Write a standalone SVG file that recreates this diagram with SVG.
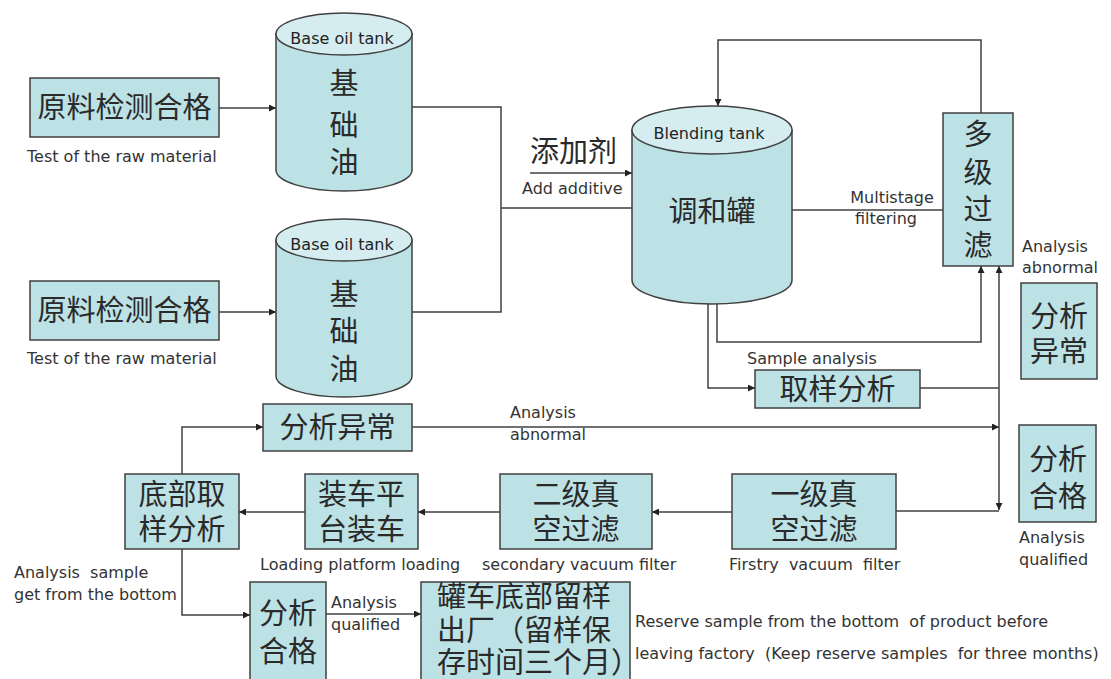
<svg xmlns="http://www.w3.org/2000/svg" width="1111" height="679" viewBox="0 0 1111 679">
  <style>
    .box { fill: #bde2e6; stroke: #404040; stroke-width: 1.5; }
    .cyl { fill: #bde2e6; stroke: #404040; stroke-width: 1.5; }
    .cyltop { fill: #d5edf0; stroke: #404040; stroke-width: 1.5; }
    .zh { font-family: "Noto Sans CJK SC", sans-serif; font-size: 29px; fill: #2a2a2a; }
    .en { font-family: "DejaVu Sans", "Liberation Sans", sans-serif; font-size: 16px; fill: #333; }
    .enm { font-family: "DejaVu Sans", "Liberation Sans", sans-serif; font-size: 16px; fill: #222; }
    .wire { fill: none; stroke: #404040; stroke-width: 1.5; }
  </style>
  <defs>
    <marker id="arr" viewBox="0 0 10 10" refX="10" refY="5" markerWidth="7" markerHeight="7" markerUnits="userSpaceOnUse" orient="auto">
      <path d="M0,0 L10,5 L0,10 z" fill="#222"/>
    </marker>
    <marker id="arrS" viewBox="0 0 10 10" refX="0" refY="5" markerWidth="7" markerHeight="7" markerUnits="userSpaceOnUse" orient="auto">
      <path d="M10,0 L0,5 L10,10 z" fill="#222"/>
    </marker>
  </defs>
  <rect width="1111" height="679" fill="#ffffff"/>

  <!-- connectors -->
  <g id="connectors">
    <path class="wire" d="M219,108 L276,108" marker-end="url(#arr)"/>
    <path class="wire" d="M219,312 L276,312" marker-end="url(#arr)"/>
    <path class="wire" d="M412,107 L501,107 L501,312 L412,312"/>
    <path class="wire" d="M501,208 L632,208"/>
    <path class="wire" d="M530,173 L632,173" marker-end="url(#arr)"/>
    <path class="wire" d="M792,210 L943,210"/>
    <path class="wire" d="M981,113 L981,40 L718,40 L718,106" marker-end="url(#arr)"/>
    <path class="wire" d="M717,304 L717,342 L981,342 L981,266" marker-end="url(#arr)"/>
    <path class="wire" d="M708,304 L708,388 L755,388" marker-end="url(#arr)"/>
    <path class="wire" d="M920,388 L999,388"/>
    <path class="wire" d="M999,510 L999,266" marker-start="url(#arrS)" marker-end="url(#arr)"/>
    <path class="wire" d="M896,511 L999,511"/>
    <path class="wire" d="M412,427 L999,427" marker-end="url(#arr)"/>
    <path class="wire" d="M732,512 L652,512" marker-end="url(#arr)"/>
    <path class="wire" d="M500,512 L418,512" marker-end="url(#arr)"/>
    <path class="wire" d="M305,512 L239,512" marker-end="url(#arr)"/>
    <path class="wire" d="M182,474 L182,427 L263,427" marker-end="url(#arr)"/>
    <path class="wire" d="M182,549 L182,615 L250,615" marker-end="url(#arr)"/>
    <path class="wire" d="M326,614 L421,614" marker-end="url(#arr)"/>
  </g>

  <!-- raw material test 1 -->
  <g id="raw1">
    <rect class="box" x="30" y="78" width="189" height="59"/>
    <text class="zh" x="124.5" y="118" text-anchor="middle" font-size="30">原料检测合格</text>
    <text class="en" x="27" y="162">Test of the raw material</text>
  </g>
  <!-- raw material test 2 -->
  <g id="raw2">
    <rect class="box" x="30" y="281" width="189" height="59"/>
    <text class="zh" x="124.5" y="321" text-anchor="middle" font-size="30">原料检测合格</text>
    <text class="en" x="27" y="364">Test of the raw material</text>
  </g>

  <!-- base oil tank 1 -->
  <g id="tank1">
    <path class="cyl" d="M276,34 L276,170 A68,21 0 0 0 412,170 L412,34 Z"/>
    <ellipse class="cyltop" cx="344" cy="34" rx="68" ry="21"/>
    <text class="enm" x="342" y="44" text-anchor="middle">Base oil tank</text>
    <text class="zh" x="344" y="94" text-anchor="middle">基</text>
    <text class="zh" x="344" y="136" text-anchor="middle">础</text>
    <text class="zh" x="344" y="173" text-anchor="middle">油</text>
  </g>
  <!-- base oil tank 2 -->
  <g id="tank2">
    <path class="cyl" d="M276,240 L276,376 A68,21 0 0 0 412,376 L412,240 Z"/>
    <ellipse class="cyltop" cx="344" cy="240" rx="68" ry="21"/>
    <text class="enm" x="342" y="250" text-anchor="middle">Base oil tank</text>
    <text class="zh" x="344" y="305" text-anchor="middle">基</text>
    <text class="zh" x="344" y="342" text-anchor="middle">础</text>
    <text class="zh" x="344" y="380" text-anchor="middle">油</text>
  </g>

  <!-- additive -->
  <g id="additive">
    <text class="zh" x="530" y="162">添加剂</text>
    <text class="en" x="522" y="194">Add additive</text>
  </g>

  <!-- blending tank -->
  <g id="blend">
    <path class="cyl" d="M632,130 L632,280 A80,24 0 0 0 792,280 L792,130 Z"/>
    <ellipse class="cyltop" cx="712" cy="130" rx="80" ry="24"/>
    <text class="enm" x="709" y="139" text-anchor="middle">Blending tank</text>
    <text class="zh" x="712" y="222" text-anchor="middle">调和罐</text>
  </g>

  <!-- multistage filtering -->
  <g id="multi">
    <text class="en" x="892" y="203" text-anchor="middle">Multistage</text>
    <text class="en" x="886" y="224" text-anchor="middle">filtering</text>
    <rect class="box" x="943" y="113" width="70" height="153"/>
    <text class="zh" x="978" y="145" text-anchor="middle">多</text>
    <text class="zh" x="978" y="183" text-anchor="middle">级</text>
    <text class="zh" x="978" y="220" text-anchor="middle">过</text>
    <text class="zh" x="978" y="256" text-anchor="middle">滤</text>
  </g>

  <!-- analysis abnormal (right) -->
  <g id="abn-right">
    <text class="en" x="1022" y="252">Analysis</text>
    <text class="en" x="1022" y="273">abnormal</text>
    <rect class="box" x="1021" y="283" width="76" height="96"/>
    <text class="zh" x="1059" y="327" text-anchor="middle">分析</text>
    <text class="zh" x="1059" y="362" text-anchor="middle">异常</text>
  </g>

  <!-- analysis qualified (right) -->
  <g id="ok-right">
    <rect class="box" x="1019" y="425" width="77" height="97"/>
    <text class="zh" x="1058" y="470" text-anchor="middle">分析</text>
    <text class="zh" x="1058" y="507" text-anchor="middle">合格</text>
    <text class="en" x="1019" y="543">Analysis</text>
    <text class="en" x="1019" y="565">qualified</text>
  </g>

  <!-- sample analysis -->
  <g id="sample">
    <text class="en" x="747" y="364">Sample analysis</text>
    <rect class="box" x="755" y="370" width="165" height="38"/>
    <text class="zh" x="837.5" y="400" text-anchor="middle">取样分析</text>
  </g>

  <!-- analysis abnormal (middle) -->
  <g id="abn-mid">
    <rect class="box" x="263" y="404" width="149" height="47"/>
    <text class="zh" x="337.5" y="438" text-anchor="middle">分析异常</text>
    <text class="en" x="510" y="418">Analysis</text>
    <text class="en" x="510" y="440">abnormal</text>
  </g>

  <!-- first vacuum filter -->
  <g id="vac1">
    <rect class="box" x="732" y="474" width="164" height="75"/>
    <text class="zh" x="814" y="505" text-anchor="middle">一级真</text>
    <text class="zh" x="814" y="540" text-anchor="middle">空过滤</text>
    <text class="en" x="729" y="570" xml:space="preserve">Firstry  vacuum  filter</text>
  </g>

  <!-- second vacuum filter -->
  <g id="vac2">
    <rect class="box" x="500" y="474" width="152" height="75"/>
    <text class="zh" x="576" y="505" text-anchor="middle">二级真</text>
    <text class="zh" x="576" y="540" text-anchor="middle">空过滤</text>
    <text class="en" x="482" y="570">secondary vacuum filter</text>
  </g>

  <!-- loading platform -->
  <g id="loading">
    <rect class="box" x="305" y="474" width="113" height="75"/>
    <text class="zh" x="361.5" y="505" text-anchor="middle">装车平</text>
    <text class="zh" x="361.5" y="540" text-anchor="middle">台装车</text>
    <text class="en" x="260" y="570">Loading platform loading</text>
  </g>

  <!-- bottom sampling -->
  <g id="bottom">
    <rect class="box" x="125" y="474" width="114" height="75"/>
    <text class="zh" x="182" y="505" text-anchor="middle">底部取</text>
    <text class="zh" x="182" y="540" text-anchor="middle">样分析</text>
    <text class="en" x="14" y="578" xml:space="preserve">Analysis  sample</text>
    <text class="en" x="14" y="600">get from the bottom</text>
  </g>

  <!-- analysis qualified (bottom) -->
  <g id="ok-bottom">
    <rect class="box" x="250" y="582" width="76" height="100"/>
    <text class="zh" x="288" y="624" text-anchor="middle">分析</text>
    <text class="zh" x="288" y="662" text-anchor="middle">合格</text>
    <text class="en" x="331" y="608">Analysis</text>
    <text class="en" x="331" y="630">qualified</text>
  </g>

  <!-- reserve sample -->
  <g id="reserve">
    <rect class="box" x="421" y="582" width="209" height="100"/>
    <text class="zh" x="437" y="607">罐车底部留样</text>
    <text class="zh" x="437" y="641">出厂（留样保</text>
    <text class="zh" x="437" y="673">存时间三个月）</text>
    <text class="en" x="635" y="627" xml:space="preserve">Reserve sample from the bottom  of product before</text>
    <text class="en" x="635" y="659" xml:space="preserve">leaving factory  (Keep reserve samples  for three months)</text>
  </g>
</svg>
